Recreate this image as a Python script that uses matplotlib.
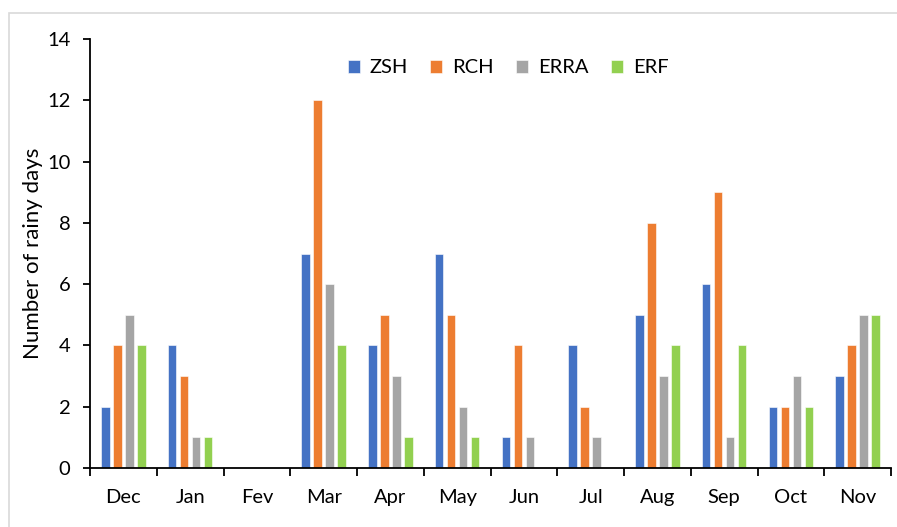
import numpy as np
import matplotlib.pyplot as plt
from matplotlib.patches import Rectangle

plt.rcParams['font.family'] = ['Lato', 'DejaVu Sans']

months = ['Dec', 'Jan', 'Fev', 'Mar', 'Apr', 'May', 'Jun', 'Jul', 'Aug', 'Sep', 'Oct', 'Nov']
zsh = [2, 4, 0, 7, 4, 7, 1, 4, 5, 6, 2, 3]
rch = [4, 3, 0, 12, 5, 5, 4, 2, 8, 9, 2, 4]
erra = [5, 1, 0, 6, 3, 2, 1, 1, 3, 1, 3, 5]
erf = [4, 1, 0, 4, 1, 1, 0, 0, 4, 4, 2, 5]

series = [('ZSH', zsh, '#4472C4'), ('RCH', rch, '#ED7D31'),
          ('ERRA', erra, '#A5A5A5'), ('ERF', erf, '#92D050')]

fig = plt.figure(figsize=(8.97, 5.27), dpi=100)
ax = fig.add_axes([90/897, 1 - 468/527, 801/897, 429/527])

# light grey chart frame
fig.patches.append(Rectangle((9/897, -0.1), 1.1, 1 - 12.5/527 + 0.1, transform=fig.transFigure,
                             fill=False, edgecolor='#D9D9D9', linewidth=1.2))

x = np.arange(len(months))
step = 0.18
w = 0.125
for i, (name, vals, col) in enumerate(series):
    ax.bar(x + (i - 1.5) * step, vals, width=w, color=col, label=name,
           edgecolor='white', linewidth=0.4)

ax.set_xlim(-0.5, len(months) - 0.5)
ax.set_ylim(0, 14)
ax.set_yticks(range(0, 15, 2))
ax.set_xticks(x)
ax.set_xticklabels(months)
ax.set_xticks(np.arange(-0.5, len(months)), minor=True)
ax.tick_params(axis='x', which='major', length=0, pad=15, labelsize=14.5)
ax.tick_params(axis='x', which='minor', length=6, width=1.3, direction='out')
ax.tick_params(axis='y', length=5, width=1.3, direction='out', pad=9, labelsize=14.5)
for s in ['top', 'right']:
    ax.spines[s].set_visible(False)
for s in ['left', 'bottom']:
    ax.spines[s].set_linewidth(1.3)

ax.set_ylabel('Number of rainy days', fontsize=16, labelpad=3)
ax.legend(loc='upper center', bbox_to_anchor=(0.522, 0.995), ncol=4, frameon=False,
          fontsize=14.5, handlelength=0.6, handleheight=0.6, columnspacing=1.1, handletextpad=0.5)

fig.savefig('out.png', dpi=100)
